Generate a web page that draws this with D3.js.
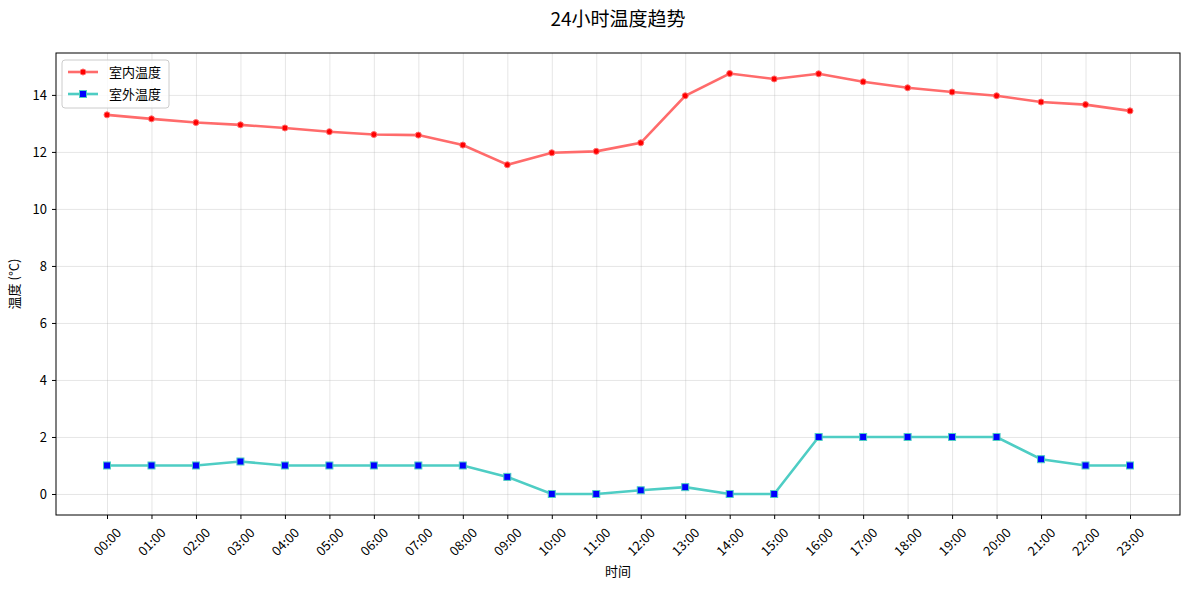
<!DOCTYPE html>
<html>
<head>
<meta charset="utf-8">
<script src="https://cdn.jsdelivr.net/npm/d3@7"></script>
<style>
  body { margin: 0; background: #fff; }
  svg text { font-family: "Noto Sans CJK SC", "Noto Sans", sans-serif; fill: #000; }
  .grid line { stroke: #b0b0b0; stroke-opacity: 0.4; stroke-width: 0.8; }
  .grid path { display: none; }
  .axis path, .axis line { stroke: #000; }
</style>
</head>
<body>
<div id="chart"></div>
<script>
const hours = ['00:00','01:00','02:00','03:00','04:00','05:00','06:00','07:00','08:00','09:00','10:00','11:00',
  '12:00','13:00','14:00','15:00','16:00','17:00','18:00','19:00','20:00','21:00','22:00','23:00']
const indoor = [13.30,13.16,13.03,12.95,12.84,12.71,12.61,12.59,12.24,11.55,11.97,12.02,
  12.32,13.97,14.75,14.56,14.74,14.46,14.25,14.10,13.97,13.75,13.66,13.44]
const outdoor = [1,1,1,1.14,1,1,1,1,1,0.6,0,0,
  0.13,0.24,0,0,2,2,2,2,2,1.22,1,1]
const yTicks = [0,2,4,6,8,10,12,14]

const W = 1189, H = 590
const margin = {top:53, right:9, bottom:75, left:56}
const width = W - margin.left - margin.right
const height = H - margin.top - margin.bottom

const svg = d3.select('#chart').append('svg')
  .attr('width', W).attr('height', H)

const g = svg.append('g')
  .attr('transform', `translate(${margin.left},${margin.top})`)

const x = d3.scalePoint()
  .domain(hours)
  .range([51, 1074])

const y = d3.scaleLinear()
  .domain([-0.737, 15.47])
  .range([height, 0])

// grid
g.append('g').attr('class', 'grid')
  .attr('transform', `translate(0,${height})`)
  .call(d3.axisBottom(x).tickSize(-height).tickFormat(''))
g.append('g').attr('class', 'grid')
  .call(d3.axisLeft(y).tickValues(yTicks).tickSize(-width).tickFormat(''))

// axes
const xAxis = g.append('g').attr('class', 'axis')
  .attr('transform', `translate(0,${height})`)
  .call(d3.axisBottom(x).tickSize(4))
xAxis.select('.domain').remove()
xAxis.selectAll('text')
  .style('font-size', '13px')
  .attr('text-anchor', 'middle')
  .attr('y', 27).attr('dy', '0.35em')
  .attr('transform', 'rotate(-45,0,27)')

const yAxis = g.append('g').attr('class', 'axis')
  .call(d3.axisLeft(y).tickValues(yTicks).tickSize(4).tickPadding(5))
yAxis.select('.domain').remove()
yAxis.selectAll('text').style('font-size', '13px')

g.append('rect')
  .attr('width', width).attr('height', height)
  .attr('fill', 'none').attr('stroke', '#000').attr('stroke-width', 1)

// lines
const line = d3.line()
  .x((d, i) => x(hours[i]))
  .y(d => y(d))

g.append('path').datum(indoor)
  .attr('d', line).attr('fill', 'none')
  .attr('stroke', '#FF6B6B').attr('stroke-width', 2.6)
g.selectAll('.pin').data(indoor).enter().append('circle')
  .attr('cx', (d, i) => x(hours[i])).attr('cy', d => y(d))
  .attr('r', 3).attr('fill', 'red')
  .attr('stroke', '#FF6B6B').attr('stroke-width', 1)

g.append('path').datum(outdoor)
  .attr('d', line).attr('fill', 'none')
  .attr('stroke', '#4ECDC4').attr('stroke-width', 2.6)
g.selectAll('.pout').data(outdoor).enter().append('rect')
  .attr('x', (d, i) => x(hours[i]) - 3.5).attr('y', d => y(d) - 3.5)
  .attr('width', 7).attr('height', 7).attr('fill', 'blue')
  .attr('stroke', '#4ECDC4').attr('stroke-width', 1)

// legend
const lg = g.append('g').attr('transform', 'translate(6,7)')
lg.append('rect').attr('width', 107).attr('height', 48).attr('rx', 3)
  .attr('fill', '#fff').attr('fill-opacity', 0.8)
  .attr('stroke', '#ccc').attr('stroke-width', 1)
const items = [
  {name: '室内温度', color: '#FF6B6B', mk: 'circle', face: 'red'},
  {name: '室外温度', color: '#4ECDC4', mk: 'square', face: 'blue'}
]
items.forEach((it, i) => {
  const yy = 12 + i * 22
  lg.append('line').attr('x1', 6).attr('x2', 36).attr('y1', yy).attr('y2', yy)
    .attr('stroke', it.color).attr('stroke-width', 2.6)
  if (it.mk === 'circle') {
    lg.append('circle').attr('cx', 21).attr('cy', yy).attr('r', 3)
      .attr('fill', it.face).attr('stroke', it.color)
  } else {
    lg.append('rect').attr('x', 17.5).attr('y', yy - 3.5).attr('width', 7).attr('height', 7)
      .attr('fill', it.face).attr('stroke', it.color)
  }
  lg.append('text').attr('x', 47).attr('y', yy).attr('dy', '0.35em')
    .style('font-size', '13px').text(it.name)
})

// labels
svg.append('text').attr('x', margin.left + width / 2).attr('y', 26)
  .attr('text-anchor', 'middle').style('font-size', '19px').text('24小时温度趋势')
svg.append('text').attr('x', margin.left + width / 2).attr('y', 576)
  .attr('text-anchor', 'middle').style('font-size', '13px').text('时间')
svg.append('text')
  .attr('transform', `translate(19,${margin.top + height / 2}) rotate(-90)`)
  .attr('text-anchor', 'middle').style('font-size', '13px').text('温度 (°C)')
</script>
</body>
</html>
